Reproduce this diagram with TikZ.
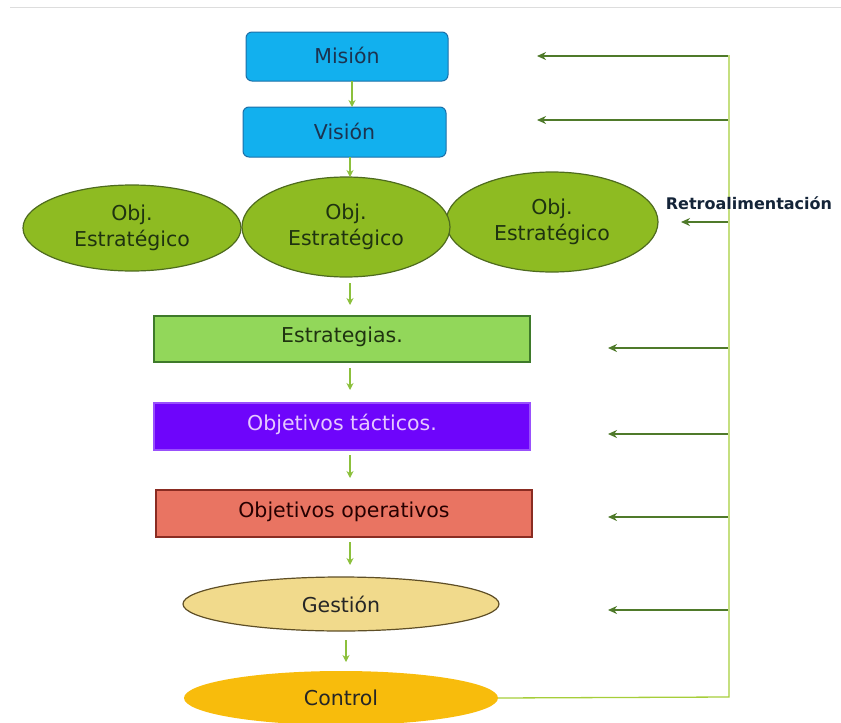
\documentclass[tikz,border=0pt]{standalone}
\usepackage{fontspec}
\setmainfont{DejaVu Sans}
\usetikzlibrary{shapes.geometric,arrows.meta}
\definecolor{cyanbox}{HTML}{12B0EE}
\definecolor{cyanborder}{HTML}{1B6FA8}
\definecolor{navytxt}{HTML}{1C3350}
\definecolor{objfill}{HTML}{8EBB22}
\definecolor{objborder}{HTML}{4E6B1E}
\definecolor{objtxt}{HTML}{1F3310}
\definecolor{estfill}{HTML}{92D75A}
\definecolor{estborder}{HTML}{3E7A2A}
\definecolor{tacfill}{HTML}{6E05FB}
\definecolor{tactxt}{HTML}{E6C8FF}
\definecolor{opfill}{HTML}{E97462}
\definecolor{opborder}{HTML}{8A2C22}
\definecolor{gesfill}{HTML}{F1DA8C}
\definecolor{gesborder}{HTML}{5E4E26}
\definecolor{ctrlfill}{HTML}{F8BC0C}
\definecolor{flowgreen}{HTML}{8CC03C}
\definecolor{fbline}{HTML}{A6CE3A}
\definecolor{fbarrow}{HTML}{4F7A2A}
\definecolor{topgray}{HTML}{DDDDDD}
\newcommand{\mainsize}{\fontsize{20.5}{24}\selectfont}
\tikzset{
  bluebox/.style={draw=cyanborder, line width=1pt, fill=cyanbox, rounded corners=6pt},
  objell/.style={ellipse, draw=objborder, line width=1.2pt, fill=objfill, text=objtxt, align=center, font=\fontsize{20.5}{26}\selectfont, inner sep=0pt},
  flatbox/.style={line width=1.2pt},
  lbl/.style={font=\mainsize},
  flow/.style={draw=flowgreen, line width=1.2pt, -{Stealth[length=7pt,width=7pt]}},
  fb/.style={draw=fbarrow, line width=1.5pt, -{Stealth[length=9pt,width=8pt]}},
  fbl/.style={draw=fbline, line width=1.3pt},
}
\begin{document}
\begin{tikzpicture}[x=1pt,y=-1pt]
\useasboundingbox (0,0) rectangle (841,723);
\draw[topgray, line width=1.5pt] (10,7.5) -- (841,7.5);

% blue boxes
\path[bluebox] (246,32) rectangle (448,81);
\node[lbl, text=navytxt] (mision) at (347,55) {Misión};
\coordinate (misB) at (352,81);
\path[bluebox] (243,107) rectangle (446,157);
\node[lbl, text=navytxt] (vision) at (344.5,131) {Visión};
\coordinate (visT) at (352,107);
\coordinate (visB) at (350,157);

% ellipses
\node[objell, minimum width=218pt, minimum height=86pt] (obj1) at (132,228) {Obj.\\Estratégico};
\node[objell, minimum width=212pt, minimum height=100pt] (obj3) at (552,222) {Obj.\\Estratégico};
\node[objell, minimum width=208pt, minimum height=100pt] (obj2) at (346,227) {Obj.\\Estratégico};

% rectangles
\draw[flatbox, draw=estborder, fill=estfill] (154,316) rectangle (530,362);
\node[lbl, text=objtxt] (estr) at (342,337) {Estrategias.};
\draw[flatbox, draw=tacfill!70!white, fill=tacfill] (154,403) rectangle (530,450);
\node[lbl, text=tactxt] (tac) at (342,424.5) {Objetivos tácticos.};
\draw[flatbox, draw=opborder, fill=opfill] (156,490) rectangle (532,537);
\node[lbl, text=black!85!red] (oper) at (344,512) {Objetivos operativos};

% gestion, control
\node[ellipse, draw=gesborder, line width=1.2pt, fill=gesfill, minimum width=316pt, minimum height=54pt, inner sep=0pt, lbl, text=black!85] (gest) at (341,604) {Gestión};
\node[ellipse, fill=ctrlfill, minimum width=314pt, minimum height=54pt, inner sep=0pt, lbl, text=black!85] (ctrl) at (341,698) {Control};

% flow arrows
\draw[flow] (misB) -- (visT);
\draw[flow] (visB) -- (350,177);
\draw[flow] (350,283) -- (350,305);
\draw[flow] (350,368) -- (350,390);
\draw[flow] (350,455) -- (350,478);
\draw[flow] (350,542) -- (350,565);
\draw[flow] (346,640) -- (346,662);

% feedback
\coordinate (fbTop) at (729,55);
\coordinate (fbBot) at (729,697);
\draw[fbl] (ctrl.east) -- (fbBot) -- (fbTop);
\node[font=\bfseries\fontsize{16}{18}\selectfont, text=navytxt!70!black] (retro) at (749,203) {Retroalimentación};
\foreach \yy/\xx in {56/537, 120/537, 222/681, 348/608, 434/608, 517/608, 610/608}{
  \coordinate (s\yy) at (728,\yy);
  \coordinate (e\yy) at (\xx,\yy);
  \draw[fb] (s\yy) -- (e\yy);
}
\end{tikzpicture}
\end{document}
